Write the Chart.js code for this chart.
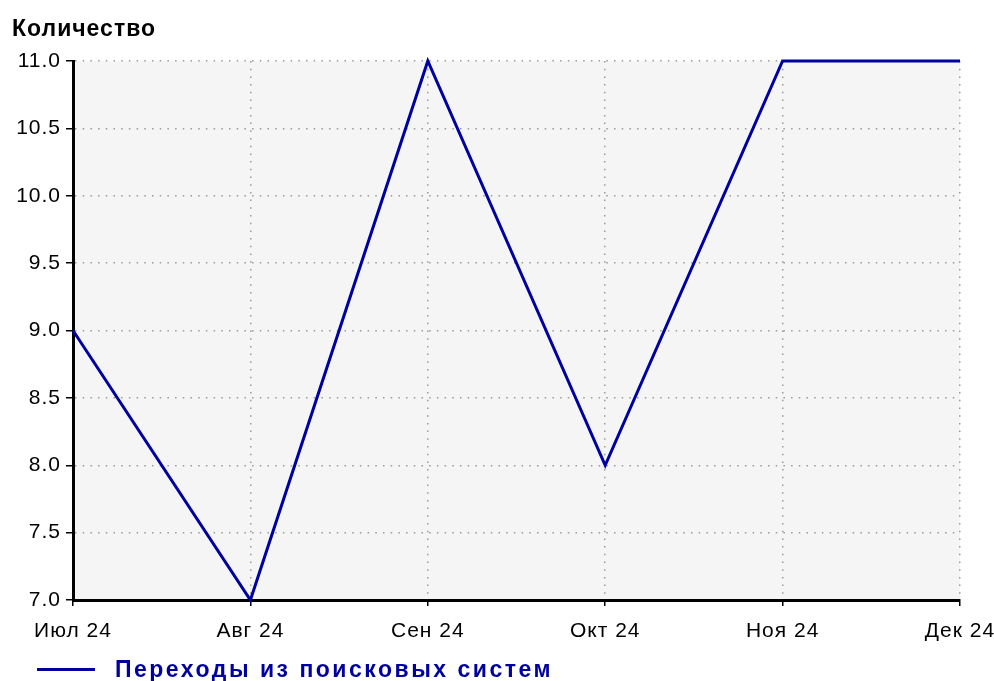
<!DOCTYPE html>
<html>
<head>
<meta charset="utf-8">
<script src="https://cdn.jsdelivr.net/npm/chart.js@4/dist/chart.umd.min.js"></script>
<style>
html,body{margin:0;padding:0;background:#fff;}
canvas{display:block;}
</style>
</head>
<body>
<canvas id="c" width="994" height="681"></canvas>
<script>
const categories = ["Июл 24", "Авг 24", "Сен 24", "Окт 24", "Ноя 24", "Дек 24"];
const seriesValues = [9, 7, 11, 8, 11, 11];
const seriesName = "Переходы из поисковых систем";
const yAxisTitle = "Количество";
const yMin = 7, yMax = 11, yStep = 0.5;

const FONT = "'Liberation Sans', Arial, sans-serif";
const BLUE = "#0000a0";

const bgPlugin = {
  id: 'bg',
  beforeDraw(chart) {
    const {ctx, chartArea: a} = chart;
    ctx.save();
    ctx.fillStyle = '#f5f5f5';
    ctx.fillRect(a.left, a.top, a.right - a.left, a.bottom - a.top);
    ctx.restore();
    ctx.letterSpacing = '1px';
  },
  afterDraw(chart) {
    const ctx = chart.ctx;
    ctx.save();
    // axis title
    ctx.font = "bold 23px " + FONT;
    ctx.fillStyle = '#000';
    ctx.textBaseline = 'alphabetic';
    ctx.textAlign = 'left';
    ctx.letterSpacing = '1px';
    ctx.fillText(yAxisTitle, 12, 36);
    // legend
    const ds = chart.data.datasets[0];
    ctx.strokeStyle = ds.borderColor;
    ctx.lineWidth = 3;
    ctx.beginPath();
    ctx.moveTo(37, 669.5);
    ctx.lineTo(95, 669.5);
    ctx.stroke();
    ctx.fillStyle = ds.borderColor;
    ctx.font = "bold 23px " + FONT;
    ctx.letterSpacing = '2.5px';
    ctx.fillText(ds.label, 115, 677);
    ctx.restore();
    ctx.letterSpacing = '0px';
  }
};

new Chart(document.getElementById('c'), {
  type: 'line',
  data: {
    labels: categories,
    datasets: [{
      label: seriesName,
      data: seriesValues,
      borderColor: BLUE,
      backgroundColor: BLUE,
      borderWidth: 3,
      pointRadius: 0,
      pointHoverRadius: 0,
      tension: 0,
      fill: false,
      clip: false
    }]
  },
  options: {
    responsive: false,
    animation: false,
    devicePixelRatio: 1,
    layout: { padding: { left: 0, right: 34, top: 61, bottom: 0 } },
    plugins: { legend: { display: false }, tooltip: { enabled: false }, title: { display: false } },
    scales: {
      x: {
        type: 'category',
        offset: false,
        grid: {
          color: '#9a9a9a',
          lineWidth: 1.5,
          tickColor: '#000',
          tickLength: 6,
          tickWidth: 1.5,
          tickBorderDash: [],
          drawTicks: true
        },
        border: { display: true, color: '#000', width: 3, dash: [1.5, 6.2] },
        ticks: {
          color: '#000',
          font: { family: FONT, size: 21 },
          padding: 13,
          maxRotation: 0,
          autoSkip: false
        },
        afterFit(scale) { scale.height = 81; scale.paddingLeft = 0; scale.paddingRight = 0; }
      },
      y: {
        min: yMin,
        max: yMax,
        grid: {
          color: '#9a9a9a',
          lineWidth: 1.5,
          tickColor: '#000',
          tickLength: 7,
          tickWidth: 1.5,
          tickBorderDash: []
        },
        border: { display: true, color: '#000', width: 3, dash: [1.5, 6.2] },
        ticks: {
          stepSize: yStep,
          color: '#000',
          font: { family: FONT, size: 21 },
          padding: 5,
          callback: v => Number(v).toFixed(1)
        },
        afterFit(scale) { scale.width = 73; scale.paddingTop = 0; scale.paddingBottom = 0; }
      }
    }
  },
  plugins: [bgPlugin]
});
</script>
</body>
</html>
